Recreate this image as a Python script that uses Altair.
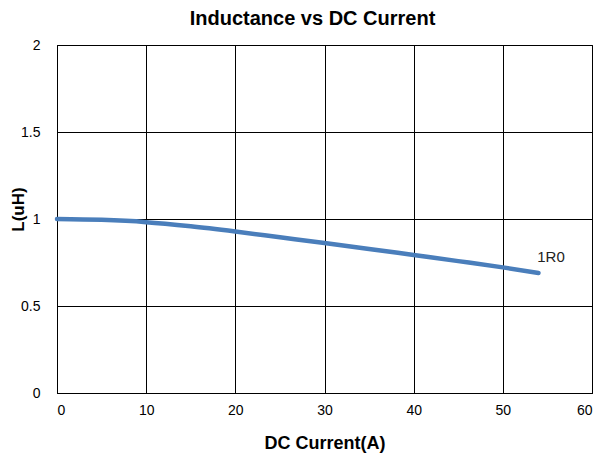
import altair as alt
import pandas as pd

current = [0, 5, 10, 15, 20, 25, 30, 35, 40, 45, 50, 54]
inductance = [1.0, 0.995, 0.982, 0.958, 0.928, 0.895, 0.862, 0.828, 0.793, 0.758, 0.722, 0.690]
series = "1R0"

df = pd.DataFrame({"I": current, "L": inductance})
lab = pd.DataFrame({"I": [55.4], "L": [0.78], "t": [series]})

FONT = "Liberation Sans"

x = alt.X("I:Q", scale=alt.Scale(domain=[0, 60], nice=False),
          axis=alt.Axis(values=[0, 10, 20, 30, 40, 50, 60], title="DC Current(A)",
                        grid=True, gridColor="#000000", gridOpacity=1, gridWidth=1,
                        domainColor="#000000", ticks=False, labelPadding=10,
                        labelFont=FONT, labelFontSize=14, labelColor="#000000",
                        titleFont=FONT, titleFontSize=18, titleFontWeight="bold",
                        titlePadding=17, titleColor="#000000"))
y = alt.Y("L:Q", scale=alt.Scale(domain=[0, 2], nice=False),
          axis=alt.Axis(values=[0, 0.5, 1, 1.5, 2], format="~g", title="L(uH)",
                        grid=True, gridColor="#000000", gridOpacity=1, gridWidth=1,
                        domainColor="#000000", ticks=False, labelPadding=17,
                        labelFont=FONT, labelFontSize=14, labelColor="#000000",
                        titleFont=FONT, titleFontSize=17, titleFontWeight="bold",
                        titleX=-30, titleY=164, titleColor="#000000"))

line = alt.Chart(df).mark_line(color="#4a7ebb", strokeWidth=4.5, interpolate="monotone",
                               strokeCap="round").encode(x=x, y=y)
text = alt.Chart(lab).mark_text(font=FONT, fontSize=15, color="#222222").encode(
    x="I:Q", y="L:Q", text="t:N")

chart = (line + text).properties(
    width=535, height=348,
    autosize=alt.AutoSizeParams(type="none"),
    padding={"left": 49, "top": 37, "right": 3, "bottom": 68},
    title=alt.Title("Inductance vs DC Current", font=FONT, fontSize=20, fontWeight="bold",
                    color="#000000", offset=9, anchor="middle", dx=-12),
).configure_view(stroke="#000000", strokeWidth=1)

chart.save("out.html", embed_options={"renderer": "svg", "actions": False})
